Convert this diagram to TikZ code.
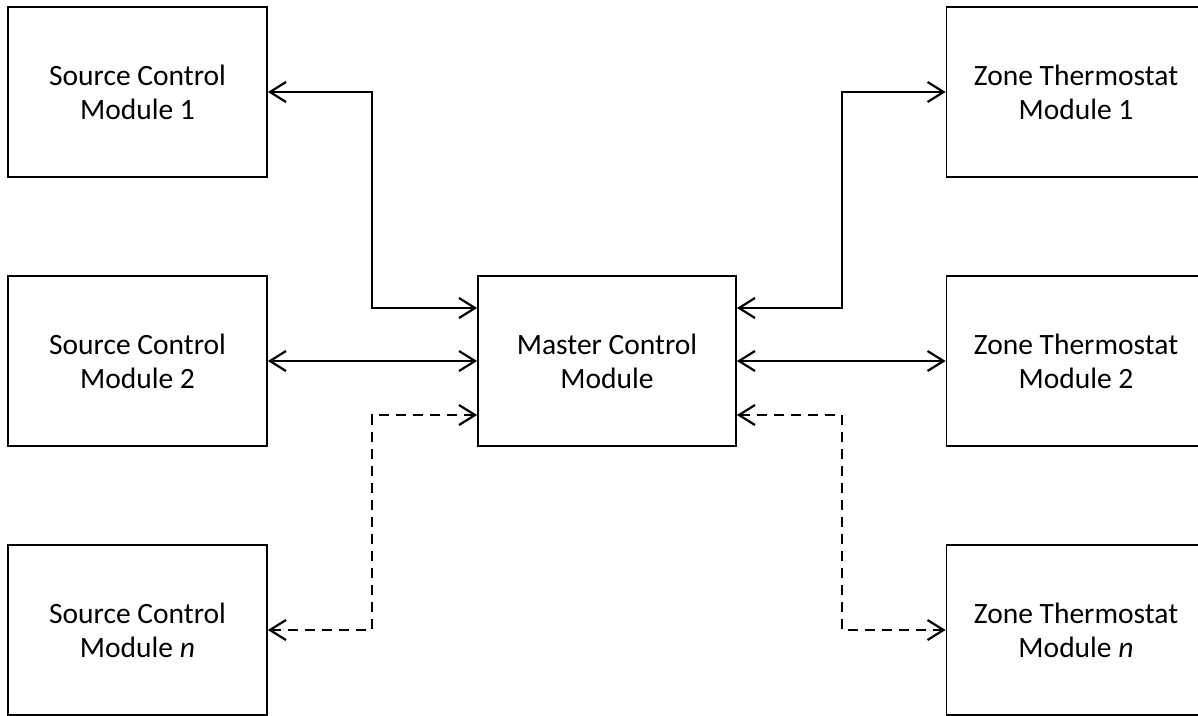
\documentclass[tikz,border=0pt]{standalone}
\usepackage{fontspec}
\setmainfont{Carlito}
\usetikzlibrary{arrows.meta}
\begin{document}
\begin{tikzpicture}[x=1pt,y=-1pt,
  box/.style={draw, line width=1.8pt, align=center, font=\fontsize{29.5}{34}\selectfont,
    inner sep=0pt, minimum width=259pt, minimum height=170pt},
  conn/.style={line width=2.2pt,
    {Straight Barb[length=16pt,width=20pt]}-{Straight Barb[length=16pt,width=20pt]}},
  dconn/.style={conn, dash pattern=on 10pt off 7pt}]
\useasboundingbox (0,0) rectangle (1198,715);
\clip (0,0) rectangle (1198,715);
\node[box] (s1) at (137.5,92) {Source Control\\Module 1};
\node[box] (s2) at (137.5,361) {Source Control\\Module 2};
\node[box] (sn) at (137.5,630) {Source Control\\Module \textit{n}};
\node[box, minimum width=258pt] (m) at (607,361) {Master Control\\Module};
\node[box] (z1) at (1076,92) {Zone Thermostat\\Module 1};
\node[box] (z2) at (1076,361) {Zone Thermostat\\Module 2};
\node[box] (zn) at (1076,630) {Zone Thermostat\\Module \textit{n}};
\coordinate (ya) at (0,308);
\coordinate (yb) at (0,415);
\coordinate (xl) at (372,0);
\coordinate (xr) at (842,0);
\draw[conn] (s1.east) -| (xl |- ya) -- (m.west |- ya);
\draw[conn] (s2.east) -- (m.west);
\draw[dconn] (sn.east) -| (xl |- yb) -- (m.west |- yb);
\draw[conn] (m.east |- ya) -- (xr |- ya) |- (z1.west);
\draw[conn] (m.east) -- (z2.west);
\draw[dconn] (m.east |- yb) -- (xr |- yb) |- (zn.west);
\end{tikzpicture}
\end{document}
